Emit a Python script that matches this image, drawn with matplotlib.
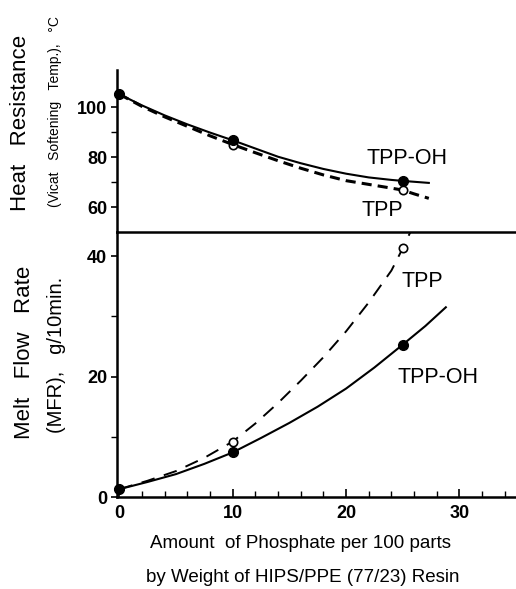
import matplotlib
matplotlib.use("Agg")
import matplotlib.pyplot as plt
from matplotlib.ticker import MultipleLocator, FixedLocator

plt.rcParams['font.family'] = ['Liberation Sans', 'DejaVu Sans']

# measured points (phosphate parts per 100 resin)
pts_x = [0, 10, 25]
heat_tppoh = [105.3, 86.8, 70.5]
heat_tpp = [105.3, 85.1, 66.8]
mfr_tppoh = [1.3, 7.4, 25.3]
mfr_tpp = [1.3, 9.2, 41.3]

# hand drawn curves
heat_tppoh_cx = [0, 2, 4, 6, 8, 10, 12, 14, 16, 18, 20, 22, 24, 25, 27.3]
heat_tppoh_cy = [105.3, 100.8, 96.8, 93.2, 89.9, 86.8, 83.5, 80.2, 77.6,
                 75.3, 73.4, 71.9, 70.9, 70.5, 69.7]
heat_tpp_cx = [0, 2, 4, 6, 8, 10, 12, 14, 16, 18, 20, 22, 24, 25, 26, 27.3]
heat_tpp_cy = [105.3, 100.4, 96.2, 92.4, 88.6, 85.1, 81.8, 78.6, 75.6,
               72.9, 70.6, 69.1, 67.6, 66.8, 65.3, 63.5]

mfr_tppoh_cx = [0, 2.5, 5, 7.5, 10, 12.5, 15, 17.5, 20, 22.5, 25, 27, 28.8]
mfr_tppoh_cy = [1.3, 2.5, 3.8, 5.5, 7.4, 9.8, 12.3, 15.0, 18.0, 21.5, 25.3,
                28.4, 31.5]
mfr_tpp_cx = [0, 2.5, 5, 7.5, 10, 12, 14, 16, 18, 20, 22, 24, 25, 25.8]
mfr_tpp_cy = [1.3, 2.7, 4.3, 6.5, 9.2, 12.2, 15.6, 19.3, 23.2, 27.5, 32.3,
              37.6, 41.3, 44.5]

fig = plt.figure(figsize=(5.16, 5.89), dpi=100)
W, H = 516.0, 589.0
left, right = 117, 515
ax_top = fig.add_axes([left / W, (H - 232) / H, (right - left) / W, (232 - 70) / H])
ax_bot = fig.add_axes([left / W, (H - 497) / H, (right - left) / W, (497 - 232) / H])

for ax in (ax_top, ax_bot):
    ax.patch.set_visible(False)
    ax.set_xlim(-0.2, 34.9)
    ax.spines['right'].set_visible(False)
    ax.spines['top'].set_visible(False)
    ax.spines['left'].set_linewidth(1.8)
    ax.spines['bottom'].set_linewidth(1.8)
    ax.tick_params(axis='y', direction='out', length=4, width=1.2, pad=3,
                   labelsize=13)
    ax.tick_params(axis='y', which='minor', direction='out', length=4, width=1.0)

# upper panel: heat resistance
ax_top.set_ylim(50, 115)
ax_top.yaxis.set_major_locator(FixedLocator([60, 80, 100]))
ax_top.yaxis.set_minor_locator(FixedLocator([70, 90]))
ax_top.set_xticks([])
ax_top.plot(heat_tppoh_cx, heat_tppoh_cy, color='black', lw=1.5)
l, = ax_top.plot(heat_tpp_cx, heat_tpp_cy, color='black', lw=2.2)
l.set_dashes((3.3, 2.0))
ax_top.plot(pts_x, heat_tpp, 'o', ms=6, mfc='white', mec='black', mew=1.2,
            clip_on=False)
ax_top.plot(pts_x, heat_tppoh, 'o', ms=7, color='black', clip_on=False)
ax_top.text(25.4, 79.6, 'TPP-OH', ha='center', va='center', fontsize=15.5)
ax_top.text(23.2, 58.6, 'TPP', ha='center', va='center', fontsize=15.5)

# lower panel: melt flow rate
ax_bot.set_ylim(0, 44)
ax_bot.yaxis.set_major_locator(FixedLocator([0, 20, 40]))
ax_bot.yaxis.set_minor_locator(FixedLocator([10, 30]))
ax_bot.xaxis.set_major_locator(MultipleLocator(10))
ax_bot.xaxis.set_minor_locator(MultipleLocator(2))
ax_bot.tick_params(axis='x', direction='in', length=6, width=1.2, pad=6,
                   labelsize=13)
ax_bot.tick_params(axis='x', which='minor', direction='in', length=4, width=1.0)
ax_bot.set_xticks([0, 10, 20, 30])
for lab in (ax_bot.get_xticklabels() + ax_bot.get_yticklabels()
            + ax_top.get_yticklabels()):
    lab.set_fontweight('bold')

ax_bot.plot(mfr_tppoh_cx, mfr_tppoh_cy, color='black', lw=1.5, clip_on=False)
l, = ax_bot.plot(mfr_tpp_cx, mfr_tpp_cy, color='black', lw=1.4)
l.set_dashes((7.0, 5.0))
ax_bot.plot(pts_x, mfr_tpp, 'o', ms=6, mfc='white', mec='black', mew=1.2,
            clip_on=False)
ax_bot.plot(pts_x, mfr_tppoh, 'o', ms=7, color='black', clip_on=False)
ax_bot.text(26.7, 35.7, 'TPP', ha='center', va='center', fontsize=15.5)
ax_bot.text(28.1, 19.8, 'TPP-OH', ha='center', va='center', fontsize=15.5)

# axis titles
fig.text(21 / W, 1 - 123 / H, 'Heat   Resistance', rotation=90,
         ha='center', va='center', fontsize=16)
fig.text(55 / W, 1 - 112 / H, '(Vicat   Softening   Temp.),   \u00b0C',
         rotation=90, ha='center', va='center', fontsize=10)
fig.text(25 / W, 1 - 352 / H, 'Melt   Flow   Rate', rotation=90,
         ha='center', va='center', fontsize=16)
fig.text(56 / W, 1 - 355 / H, '(MFR),   g/10min.', rotation=90,
         ha='center', va='center', fontsize=14.5)
fig.text(300 / W, 1 - 543 / H, 'Amount  of Phosphate per 100 parts',
         ha='center', va='center', fontsize=13.5)
fig.text(303 / W, 1 - 577 / H, 'by Weight of HIPS/PPE (77/23) Resin',
         ha='center', va='center', fontsize=13.5)

fig.savefig('out.png', dpi=100)
